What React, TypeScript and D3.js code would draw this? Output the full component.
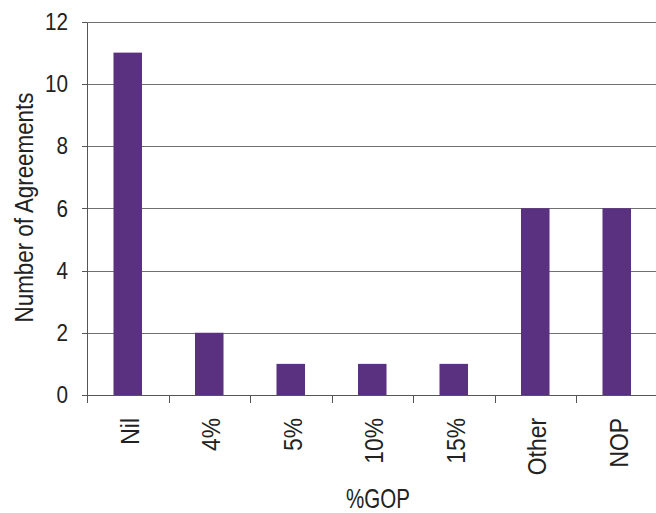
import { scaleBand, scaleLinear } from "d3";

const categories = ["Nil", "4%", "5%", "10%", "15%", "Other", "NOP"];
const agreements = [11, 2, 1, 1, 1, 6, 6];
const yTicks = [0, 2, 4, 6, 8, 10, 12];

// condensed look: Liberation Sans squeezed along the text direction
const font = "'Liberation Sans', Arial, sans-serif";

export default function App() {
  const width = 656;
  const height = 513;
  const left = 87;
  const right = 657.5;
  const top = 21.5;
  const bottom = 395;

  const x = scaleBand<string>()
    .domain(categories)
    .range([left, right])
    .paddingInner(0.65)
    .paddingOuter(0.325);
  const y = scaleLinear().domain([0, 12]).range([bottom, top]);

  const step = x.step();
  const crisp = (v: number) => Math.round(v) + 0.5;

  return (
    <div style={{ position: "absolute", left: 0, top: 0 }}>
      <svg width={width} height={height} style={{ display: "block", background: "#fff" }}>
        {/* grid lines */}
        {yTicks.map((t) => (
          <line
            key={t}
            x1={left}
            x2={width}
            y1={crisp(y(t))}
            y2={crisp(y(t))}
            stroke={t === 0 ? "#555" : "#707070"}
            strokeWidth={1}
            shapeRendering="crispEdges"
          />
        ))}

        {/* bars */}
        {categories.map((c, i) => (
          <rect
            key={c}
            x={x(c)}
            y={y(agreements[i])}
            width={x.bandwidth()}
            height={y(0) - y(agreements[i])}
            fill="#5A3180"
          />
        ))}

        {/* y axis */}
        <line
          x1={crisp(left)}
          x2={crisp(left)}
          y1={crisp(top)}
          y2={crisp(bottom)}
          stroke="#555"
          shapeRendering="crispEdges"
        />
        {yTicks.map((t) => (
          <g key={t}>
            <line
              x1={left - 5}
              x2={left}
              y1={crisp(y(t))}
              y2={crisp(y(t))}
              stroke="#555"
              shapeRendering="crispEdges"
            />
            <text
              transform={`translate(68,${y(t)}) scale(0.9,1)`}
              dy="0.36em"
              textAnchor="end"
              fontFamily={font}
              fontSize={23}
              fill="#222"
            >
              {t}
            </text>
          </g>
        ))}

        {/* x axis ticks at category boundaries */}
        {categories.map((c) => {
          const bx = (x(c) ?? 0) + x.bandwidth() / 2 - step / 2;
          return (
            <line
              key={c}
              x1={crisp(bx)}
              x2={crisp(bx)}
              y1={crisp(bottom)}
              y2={bottom + 8}
              stroke="#555"
              shapeRendering="crispEdges"
            />
          );
        })}

        {/* x labels */}
        {categories.map((c) => {
          const cx = (x(c) ?? 0) + x.bandwidth() / 2 + 11;
          return (
            <text
              key={c}
              transform={`translate(${cx},418) rotate(-90) scale(0.88,1)`}
              textAnchor="end"
              fontFamily={font}
              fontSize={26}
              fill="#222"
            >
              {c}
            </text>
          );
        })}

        {/* axis titles */}
        <text
          transform="translate(33,207.5) rotate(-90) scale(0.86,1)"
          textAnchor="middle"
          fontFamily={font}
          fontSize={26}
          fill="#222"
        >
          Number of Agreements
        </text>
        <text
          transform="translate(378,508) scale(0.76,1)"
          textAnchor="middle"
          fontFamily={font}
          fontSize={27}
          fill="#222"
        >
          %GOP
        </text>
      </svg>
    </div>
  );
}
